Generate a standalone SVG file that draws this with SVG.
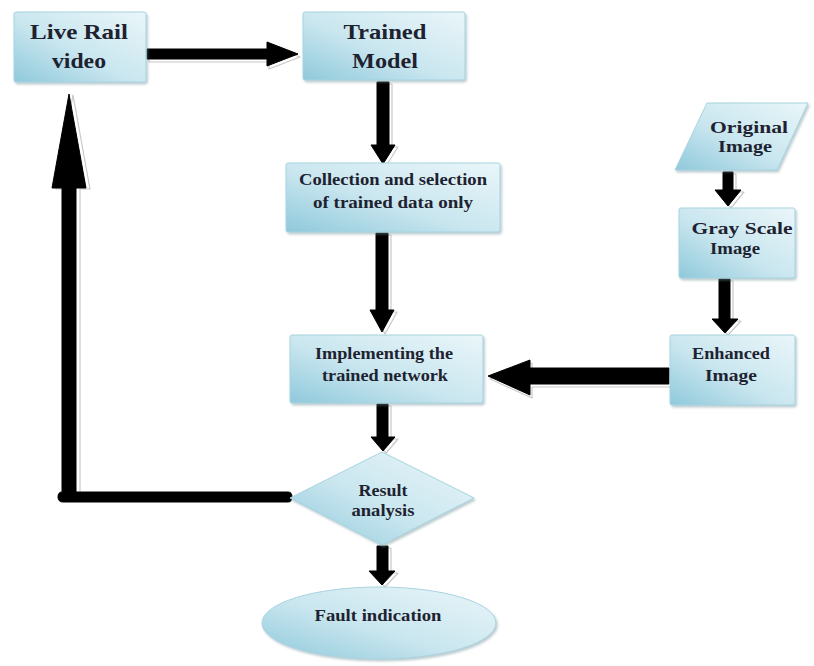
<svg xmlns="http://www.w3.org/2000/svg" width="814" height="666" viewBox="0 0 814 666">
  <defs>
    <linearGradient id="fillBlue" x1="0" y1="1" x2="1" y2="0">
      <stop offset="0" stop-color="#8fc9db"/>
      <stop offset="0.45" stop-color="#c9e6ef"/>
      <stop offset="1" stop-color="#eaf6f9"/>
    </linearGradient>
    <filter id="shadow" x="-10%" y="-10%" width="125%" height="130%">
      <feDropShadow dx="1.5" dy="2" stdDeviation="1.2" flood-color="#6f8f99" flood-opacity="0.45"/>
    </filter>
    <style>
      .node { fill: url(#fillBlue); stroke: #a7d3e0; stroke-width: 1; filter: url(#shadow); }
      .lbl { font-family: "Liberation Serif", "Times New Roman", serif; font-weight: bold; fill: #1e2230; text-anchor: middle; }
      .big { font-size: 22px; }
      .mid { font-size: 17px; }
      .arrow { fill: #000; stroke: #000; stroke-width: 1; stroke-linejoin: round; }
      .ghost { fill: #ffffff; stroke: #c8c8c8; stroke-width: 1.2; stroke-linejoin: round; }
    </style>
  </defs>

  <rect width="814" height="666" fill="#ffffff"/>

  <!-- connectors: each arrow is a light outline copy under a solid black arrow -->
  <g id="connectors">
    <!-- Live Rail video -> Trained Model -->
    <path class="ghost" transform="translate(2,3)" d="M147,49 H267 V42 L298,54 L267,66 V59 H147 Z"/>
    <path class="arrow" d="M147,49 H267 V42 L298,54 L267,66 V59 H147 Z"/>
    <!-- Trained Model -> Collection -->
    <path class="ghost" transform="translate(3,2)" d="M377,82 H389 V145 H395 L383,164 L371,145 H377 Z"/>
    <path class="arrow" d="M377,82 H389 V145 H395 L383,164 L371,145 H377 Z"/>
    <!-- Collection -> Implementing -->
    <path class="ghost" transform="translate(3,2)" d="M376,233 H388 V310 H394 L382,332 L370,310 H376 Z"/>
    <path class="arrow" d="M376,233 H388 V310 H394 L382,332 L370,310 H376 Z"/>
    <!-- Implementing -> Result analysis -->
    <path class="ghost" transform="translate(3,2)" d="M377,404 H388 V437 H395 L383,451 L371,437 H377 Z"/>
    <path class="arrow" d="M377,404 H388 V437 H395 L383,451 L371,437 H377 Z"/>
    <!-- Result analysis -> Fault indication -->
    <path class="ghost" transform="translate(3,2)" d="M377,546 H388 V571 H395 L382,585 L369,571 H377 Z"/>
    <path class="arrow" d="M377,546 H388 V571 H395 L382,585 L369,571 H377 Z"/>
    <!-- Enhanced Image -> Implementing -->
    <path class="ghost" transform="translate(2,3)" d="M669,368 H530 V360 L488,376 L530,395 V384 H669 Z"/>
    <path class="arrow" d="M669,368 H530 V360 L488,376 L530,395 V384 H669 Z"/>
    <!-- Original Image -> Gray Scale Image -->
    <path class="ghost" transform="translate(3,2)" d="M723,172 H733 V190 H741 L728,206 L715,190 H723 Z"/>
    <path class="arrow" d="M723,172 H733 V190 H741 L728,206 L715,190 H723 Z"/>
    <!-- Gray Scale Image -> Enhanced Image -->
    <path class="ghost" transform="translate(3,2)" d="M719,279 H730 V319 H738 L725,333 L712,319 H719 Z"/>
    <path class="arrow" d="M719,279 H730 V319 H738 L725,333 L712,319 H719 Z"/>
    <!-- Result analysis -> back to Live Rail video -->
    <path class="ghost" transform="translate(4,1)" d="M62,500 V188 H52 L69,94 L86,188 H76 V492"/>
    <path class="arrow" d="M288,492 H76 V188 H86 L69,94 L52,188 H62 V492 Q58,492 58,497 Q58,502 63,502 H288 Q292,502 292,497 Q292,492 288,492 Z"/>
  </g>

  <g id="live-rail-video">
    <rect class="node" x="14" y="12" width="132" height="70" rx="2"/>
    <text class="lbl big" x="79" y="39" textLength="98" lengthAdjust="spacingAndGlyphs">Live Rail</text>
    <text class="lbl big" x="79" y="68" textLength="54" lengthAdjust="spacingAndGlyphs">video</text>
  </g>

  <g id="trained-model">
    <rect class="node" x="303" y="12" width="162" height="68" rx="2"/>
    <text class="lbl big" x="385" y="39" textLength="83" lengthAdjust="spacingAndGlyphs">Trained</text>
    <text class="lbl big" x="385" y="68" textLength="66" lengthAdjust="spacingAndGlyphs">Model</text>
  </g>

  <g id="collection">
    <rect class="node" x="286" y="163" width="214" height="69" rx="2"/>
    <text class="lbl mid" x="393" y="185" textLength="188" lengthAdjust="spacingAndGlyphs">Collection and selection</text>
    <text class="lbl mid" x="393" y="208" textLength="160" lengthAdjust="spacingAndGlyphs">of trained data only</text>
  </g>

  <g id="implementing">
    <rect class="node" x="290" y="335" width="193" height="68" rx="2"/>
    <text class="lbl mid" x="384" y="359" textLength="138" lengthAdjust="spacingAndGlyphs">Implementing the</text>
    <text class="lbl mid" x="385" y="381" textLength="126" lengthAdjust="spacingAndGlyphs">trained network</text>
  </g>

  <g id="original-image">
    <polygon class="node" points="707,103 808,103 777,170 675,170"/>
    <text class="lbl mid" x="749" y="133" textLength="78" lengthAdjust="spacingAndGlyphs">Original</text>
    <text class="lbl mid" x="745" y="152" textLength="54" lengthAdjust="spacingAndGlyphs">Image</text>
  </g>

  <g id="gray-scale-image">
    <rect class="node" x="679" y="208" width="116" height="70" rx="2"/>
    <text class="lbl mid" x="742" y="234" textLength="101" lengthAdjust="spacingAndGlyphs">Gray Scale</text>
    <text class="lbl mid" x="735" y="254" textLength="50" lengthAdjust="spacingAndGlyphs">Image</text>
  </g>

  <g id="enhanced-image">
    <rect class="node" x="670" y="335" width="125" height="70" rx="2"/>
    <text class="lbl mid" x="731" y="359" textLength="78" lengthAdjust="spacingAndGlyphs">Enhanced</text>
    <text class="lbl mid" x="731" y="381" textLength="52" lengthAdjust="spacingAndGlyphs">Image</text>
  </g>

  <g id="result-analysis">
    <polygon class="node" points="290,498 382,452 474,498 382,545"/>
    <text class="lbl mid" x="383" y="496" textLength="49" lengthAdjust="spacingAndGlyphs">Result</text>
    <text class="lbl mid" x="383" y="516" textLength="63" lengthAdjust="spacingAndGlyphs">analysis</text>
  </g>

  <g id="fault-indication">
    <ellipse class="node" cx="379" cy="623" rx="117" ry="36"/>
    <text class="lbl mid" x="378" y="621" textLength="127" lengthAdjust="spacingAndGlyphs">Fault indication</text>
  </g>
</svg>
